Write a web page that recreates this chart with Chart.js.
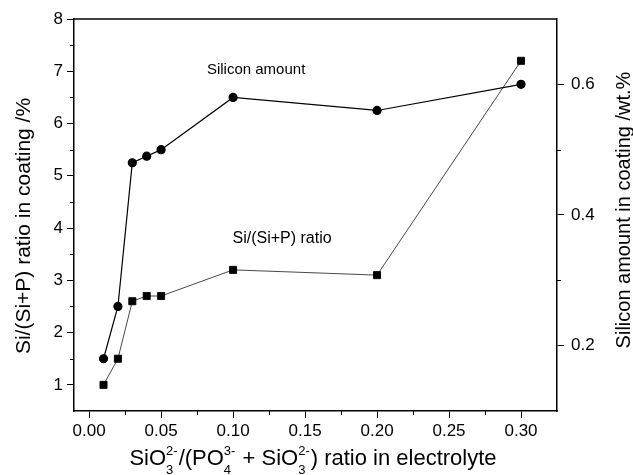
<!DOCTYPE html>
<html>
<head>
<meta charset="utf-8">
<script src="https://cdn.jsdelivr.net/npm/chart.js@4"></script>
<style>
  html, body { margin: 0; padding: 0; background: #fff; }
  #wrap { width: 633px; height: 475px; }
</style>
</head>
<body>
<div id="wrap"><canvas id="c"></canvas></div>
<script>
const ratioX = [0.01, 0.02, 0.03, 0.04, 0.05, 0.10, 0.20, 0.30];
const siRatio = [1.0, 1.5, 2.6, 2.7, 2.7, 3.2, 3.1, 7.2];
const siAmount = [0.18, 0.26, 0.48, 0.49, 0.50, 0.58, 0.56, 0.60];

const xTicks = [0, 0.05, 0.10, 0.15, 0.20, 0.25, 0.30];
const leftTicks = [1, 2, 3, 4, 5, 6, 7, 8];
const rightTicks = [0.2, 0.4, 0.6];

const FONT = '"Liberation Sans", Arial, sans-serif';

// short minor ticks between the labelled ones
const minorX = [0.025, 0.075, 0.125, 0.175, 0.225, 0.275];
const minorLeft = [1.5, 2.5, 3.5, 4.5, 5.5, 6.5, 7.5];
const minorRight = [0.3, 0.5];

const extras = {
  id: 'extras',
  afterDraw(chart) {
    const ctx = chart.ctx;
    const a = chart.chartArea;
    const sx = chart.scales.x, sy = chart.scales.y, sy1 = chart.scales.y1;
    ctx.save();
    ctx.strokeStyle = '#000';
    ctx.lineWidth = 1.5;
    ctx.beginPath();
    ctx.moveTo(a.left, a.top);
    ctx.lineTo(a.right, a.top);
    ctx.stroke();

    ctx.lineWidth = 1;
    ctx.beginPath();
    minorX.forEach(v => {
      const px = Math.round(sx.getPixelForValue(v)) + 0.5;
      ctx.moveTo(px, a.bottom); ctx.lineTo(px, a.bottom + 4);
    });
    minorLeft.forEach(v => {
      const py = Math.round(sy.getPixelForValue(v)) + 0.5;
      ctx.moveTo(a.left, py); ctx.lineTo(a.left - 4, py);
    });
    minorRight.forEach(v => {
      const py = Math.round(sy1.getPixelForValue(v)) + 0.5;
      ctx.moveTo(a.right, py); ctx.lineTo(a.right + 4, py);
    });
    ctx.stroke();

    // labels next to the curves
    ctx.fillStyle = '#000';
    ctx.textAlign = 'center';
    ctx.textBaseline = 'middle';
    ctx.font = '15px ' + FONT;
    ctx.fillText('Silicon amount', sx.getPixelForValue(0.116), sy.getPixelForValue(7.02));
    ctx.font = '16px ' + FONT;
    ctx.fillText('Si/(Si+P) ratio', sx.getPixelForValue(0.134), sy.getPixelForValue(3.79));

    // y titles
    ctx.textBaseline = 'alphabetic';
    ctx.font = '21px ' + FONT;
    ctx.save();
    ctx.translate(30, 226);
    ctx.rotate(-Math.PI / 2);
    ctx.fillText('Si/(Si+P) ratio in coating /%', 0, 0);
    ctx.restore();
    ctx.font = '20px ' + FONT;
    ctx.save();
    ctx.translate(630, 210);
    ctx.rotate(-Math.PI / 2);
    ctx.fillText('Silicon amount in coating /wt.%', 0, 0);
    ctx.restore();

    // x title with sub/superscripts
    const parts = [
      ['SiO', null, null], [null, '2-', '3'],
      ['/(PO', null, null], [null, '3-', '4'],
      [' + SiO', null, null], [null, '2-', '3'],
      [') ratio in electrolyte', null, null]
    ];
    const big = '22px ' + FONT, small = '13px ' + FONT;
    let total = 0;
    parts.forEach(p => {
      if (p[0]) { ctx.font = big; total += ctx.measureText(p[0]).width; }
      else { ctx.font = small; total += Math.max(ctx.measureText(p[1]).width, ctx.measureText(p[2]).width) + 1; }
    });
    let x = 313 - total / 2;
    const base = 465;
    ctx.textAlign = 'left';
    parts.forEach(p => {
      if (p[0]) {
        ctx.font = big;
        ctx.fillText(p[0], x, base);
        x += ctx.measureText(p[0]).width;
      } else {
        ctx.font = small;
        ctx.fillText(p[1], x, base - 10);
        ctx.fillText(p[2], x, base + 9);
        x += Math.max(ctx.measureText(p[1]).width, ctx.measureText(p[2]).width) + 1;
      }
    });
    ctx.restore();
  }
};

const tickGrid = {
  display: true,
  drawOnChartArea: false,
  drawTicks: true,
  tickLength: 7,
  tickColor: '#000',
  lineWidth: 1
};

new Chart(document.getElementById('c'), {
  type: 'line',
  data: {
    datasets: [
      {
        label: 'Silicon amount',
        data: ratioX.map((x, i) => ({ x: x, y: siAmount[i] })),
        yAxisID: 'y1',
        borderColor: '#000',
        borderWidth: 1.2,
        pointStyle: 'circle',
        pointRadius: 4,
        pointBackgroundColor: '#000',
        pointBorderColor: '#000',
        tension: 0
      },
      {
        label: 'Si/(Si+P) ratio',
        data: ratioX.map((x, i) => ({ x: x, y: siRatio[i] })),
        yAxisID: 'y',
        borderColor: '#333',
        borderWidth: 0.9,
        pointStyle: 'rect',
        pointRadius: 5,
        pointBackgroundColor: '#000',
        pointBorderColor: '#000',
        tension: 0
      }
    ]
  },
  options: {
    responsive: true,
    maintainAspectRatio: false,
    animation: false,
    layout: { padding: { top: 19, left: 0, right: 0, bottom: 0 } },
    plugins: {
      legend: { display: false },
      tooltip: { enabled: false }
    },
    scales: {
      x: {
        type: 'linear',
        min: -0.0105,
        max: 0.325,
        afterBuildTicks: s => { s.ticks = xTicks.map(v => ({ value: v })); },
        afterFit: s => { s.height = 64; },
        grid: tickGrid,
        border: { display: true, color: '#000', width: 1.5 },
        ticks: {
          color: '#000',
          font: { family: FONT, size: 17 },
          padding: 3,
          maxRotation: 0,
          callback: v => v.toFixed(2)
        }
      },
      y: {
        position: 'left',
        min: 0.5,
        max: 8,
        afterBuildTicks: s => { s.ticks = leftTicks.map(v => ({ value: v })); },
        afterFit: s => { s.width = 74; },
        grid: tickGrid,
        border: { display: true, color: '#000', width: 1.5 },
        ticks: {
          color: '#000',
          font: { family: FONT, size: 17 },
          padding: 4,
          callback: v => String(v)
        }
      },
      y1: {
        position: 'right',
        min: 0.1,
        max: 0.7,
        afterBuildTicks: s => { s.ticks = rightTicks.map(v => ({ value: v })); },
        afterFit: s => { s.width = 76; },
        grid: tickGrid,
        border: { display: true, color: '#000', width: 1.5 },
        ticks: {
          color: '#000',
          font: { family: FONT, size: 17 },
          padding: 7,
          callback: v => v.toFixed(1)
        }
      }
    }
  },
  plugins: [extras]
});
</script>
</body>
</html>
